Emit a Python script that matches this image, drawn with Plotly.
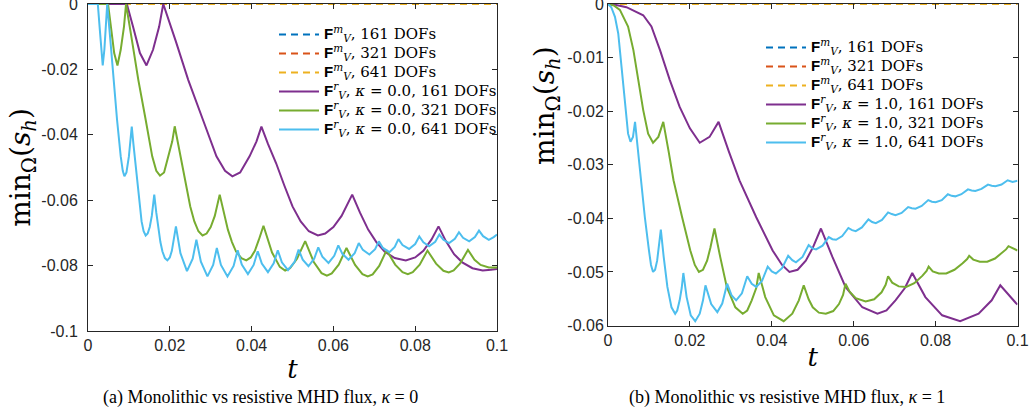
import plotly.graph_objects as go

# ---------------- data ----------------
T_RANGE = [0.0, 0.1]
MONO_T = [0.0, 0.1]
MONO_161 = [0.0, 0.0]
MONO_321 = [0.0, 0.0]
MONO_641 = [0.0, 0.0]

# panel (a): resistive flux, kappa = 0  -> (t, min s_h)
A_RES_161 = [(0, 0), (0.0095, 0), (0.011, -0.0069), (0.0127, -0.015), (0.0143, -0.0188), (0.0159, -0.014),
             (0.0174, -0.0069), (0.0184, 0), (0.0215, -0.0115), (0.0245, -0.0232), (0.0281, -0.0354),
             (0.0314, -0.0466), (0.0335, -0.051), (0.0353, -0.0527), (0.0372, -0.0515), (0.0395, -0.0466),
             (0.0412, -0.042), (0.0424, -0.0375), (0.044, -0.0428), (0.046, -0.0487), (0.048, -0.0555),
             (0.050, -0.0619), (0.052, -0.0665), (0.054, -0.0695), (0.0562, -0.0708), (0.058, -0.0702),
             (0.060, -0.0682), (0.062, -0.0648), (0.0646, -0.0583), (0.0665, -0.0638), (0.0685, -0.069),
             (0.0705, -0.0728), (0.0725, -0.0757), (0.075, -0.0777), (0.0777, -0.0784), (0.080, -0.0775),
             (0.082, -0.0755), (0.084, -0.072), (0.0857, -0.068), (0.0875, -0.0725), (0.0895, -0.0765),
             (0.0915, -0.079), (0.094, -0.0808), (0.0965, -0.0815), (0.0985, -0.0813), (0.1, -0.081)]

A_RES_321 = [(0, 0), (0.0049, 0), (0.0056, -0.0069), (0.0064, -0.015), (0.0072, -0.0188), (0.008, -0.014),
             (0.0088, -0.0069), (0.0093, 0), (0.0108, -0.0115), (0.0123, -0.0232), (0.0141, -0.0354),
             (0.0157, -0.0466), (0.0167, -0.051), (0.0176, -0.0525), (0.0186, -0.0515), (0.0197, -0.0466),
             (0.0206, -0.042), (0.0212, -0.0374), (0.022, -0.0428), (0.023, -0.0487), (0.024, -0.0555),
             (0.025, -0.0619), (0.026, -0.0665), (0.027, -0.0695), (0.028, -0.0708), (0.029, -0.0702),
             (0.030, -0.0682), (0.031, -0.0648), (0.0322, -0.0583), (0.0332, -0.0638), (0.0342, -0.069),
             (0.0352, -0.0728), (0.0362, -0.0757), (0.0375, -0.0777), (0.0387, -0.0784), (0.0398, -0.0775),
             (0.0408, -0.0755), (0.0418, -0.072), (0.0429, -0.0678), (0.045, -0.076), (0.0469, -0.0804),
             (0.0482, -0.0815), (0.0494, -0.0808), (0.0511, -0.0779), (0.0531, -0.0725), (0.0552, -0.0789),
             (0.0571, -0.0823), (0.0584, -0.0831), (0.0596, -0.0824), (0.0613, -0.0797), (0.0632, -0.0746),
             (0.0653, -0.0798), (0.0671, -0.0826), (0.0684, -0.0833), (0.0696, -0.0827), (0.0712, -0.0801),
             (0.073, -0.0753), (0.0751, -0.0797), (0.0769, -0.082), (0.0782, -0.0826), (0.0794, -0.082),
             (0.0811, -0.0797), (0.083, -0.0754), (0.0851, -0.0794), (0.0869, -0.0816), (0.0882, -0.0821),
             (0.0894, -0.0815), (0.091, -0.0793), (0.0929, -0.0752), (0.0945, -0.0782), (0.096, -0.0798),
             (0.098, -0.0806), (0.1, -0.0806)]

A_RES_641 = [(0, 0), (0.0024, 0), (0.0029, -0.008), (0.0033, -0.015), (0.0036, -0.0188), (0.004, -0.014),
             (0.0044, -0.007), (0.0047, 0), (0.0055, -0.0115), (0.0062, -0.0232), (0.0071, -0.0354),
             (0.008, -0.0466), (0.0085, -0.051), (0.0089, -0.0527), (0.0094, -0.0515), (0.01, -0.0466),
             (0.0104, -0.042), (0.0107, -0.0375), (0.0111, -0.0428), (0.0116, -0.0487), (0.0121, -0.0555),
             (0.0126, -0.0619), (0.0131, -0.0665), (0.0136, -0.0695), (0.0141, -0.0708), (0.0146, -0.0702),
             (0.0151, -0.0682), (0.0156, -0.0648), (0.0162, -0.0583), (0.0167, -0.0638), (0.0172, -0.069),
             (0.0177, -0.0728), (0.0182, -0.0757), (0.0188, -0.0777), (0.0194, -0.0784), (0.02, -0.0775),
             (0.0205, -0.0755), (0.021, -0.072), (0.0215, -0.068),
             (0.0226, -0.0762), (0.0242, -0.0817), (0.0256, -0.0779), (0.0265, -0.0721),
             (0.0276, -0.0788), (0.0292, -0.0833), (0.0306, -0.0798), (0.0315, -0.0746),
             (0.0325, -0.0798), (0.0341, -0.0833), (0.0356, -0.0801), (0.0366, -0.0753),
             (0.0376, -0.0797), (0.0391, -0.0826), (0.0405, -0.0798), (0.0415, -0.0756),
             (0.0425, -0.0794), (0.044, -0.082), (0.0454, -0.0793), (0.0464, -0.0753),
             (0.0474, -0.079), (0.0489, -0.0814), (0.0505, -0.0789), (0.0515, -0.0751),
             (0.0525, -0.0782), (0.0539, -0.0802), (0.0553, -0.0779), (0.0563, -0.0744),
             (0.0573, -0.0773), (0.0588, -0.0792), (0.0602, -0.077), (0.0612, -0.0738),
             (0.0622, -0.0764), (0.0637, -0.0782), (0.0652, -0.0762), (0.0662, -0.0731),
             (0.0672, -0.0752), (0.0688, -0.0766), (0.0702, -0.075), (0.0711, -0.0726),
             (0.0721, -0.0746), (0.0737, -0.0759), (0.075, -0.0743), (0.0759, -0.0719),
             (0.0769, -0.0737), (0.0785, -0.0749), (0.08, -0.0734), (0.081, -0.0711),
             (0.082, -0.0729), (0.0834, -0.0741), (0.0849, -0.0727), (0.0859, -0.0705),
             (0.0869, -0.0721), (0.0883, -0.0731), (0.0897, -0.0718), (0.0907, -0.0698),
             (0.0917, -0.0715), (0.0932, -0.0726), (0.0946, -0.0713), (0.0956, -0.0693),
             (0.0966, -0.071), (0.098, -0.0721), (0.0992, -0.0713), (0.1, -0.0705)]

# panel (b): resistive flux, kappa = 1
B_RES_161 = [(0, 0), (0.002, -0.0002), (0.0045, -0.0006), (0.0086, -0.0021), (0.0106, -0.0042), (0.0127, -0.0086),
             (0.0151, -0.0142), (0.0175, -0.0192), (0.02, -0.0232), (0.0224, -0.0259), (0.0248, -0.0248),
             (0.027, -0.022), (0.0295, -0.0275), (0.0321, -0.0329), (0.0362, -0.0398), (0.0402, -0.046),
             (0.0425, -0.0487), (0.0443, -0.05), (0.0463, -0.0496), (0.0483, -0.0479), (0.05, -0.0455),
             (0.052, -0.0419), (0.0548, -0.0472), (0.058, -0.0528), (0.0621, -0.0566), (0.0658, -0.0578),
             (0.068, -0.0572), (0.0702, -0.0553), (0.0725, -0.053), (0.0743, -0.0502), (0.0775, -0.0547),
             (0.0816, -0.0581), (0.086, -0.0592), (0.0905, -0.0578), (0.0937, -0.0553), (0.0958, -0.0525),
             (0.0996, -0.0558), (0.1, -0.0561)]

B_RES_321 = [(0, 0), (0.0015, -0.0003), (0.0029, -0.0011), (0.0049, -0.0042), (0.0062, -0.0086), (0.0074, -0.0142),
             (0.0086, -0.0198), (0.0098, -0.0242), (0.011, -0.0259), (0.0123, -0.0248), (0.0135, -0.022),
             (0.0148, -0.0275), (0.016, -0.0329), (0.0181, -0.0398), (0.0201, -0.046), (0.0212, -0.0487),
             (0.0222, -0.05), (0.0232, -0.0496), (0.0242, -0.0479), (0.025, -0.0455), (0.026, -0.0419),
             (0.0274, -0.0472), (0.029, -0.0528), (0.0311, -0.0566), (0.0329, -0.0578), (0.034, -0.0572),
             (0.0351, -0.0553), (0.0362, -0.053), (0.0368, -0.0502), (0.0384, -0.0547), (0.0405, -0.0581),
             (0.0429, -0.0592), (0.045, -0.0578), (0.0466, -0.0553), (0.0478, -0.0525),
             (0.049, -0.0551), (0.05, -0.0566), (0.0515, -0.0576), (0.0532, -0.0578), (0.055, -0.0573),
             (0.0564, -0.056), (0.0574, -0.0543), (0.058, -0.0522),
             (0.059, -0.0537), (0.0605, -0.0549), (0.0629, -0.0555), (0.065, -0.0551), (0.0668, -0.0538),
             (0.0678, -0.0524), (0.0684, -0.0508),
             (0.0694, -0.052), (0.071, -0.0527), (0.0728, -0.0528), (0.0748, -0.0521), (0.0768, -0.0507),
             (0.0778, -0.0498), (0.0783, -0.049),
             (0.0793, -0.0499), (0.0808, -0.0503), (0.0826, -0.0503), (0.0846, -0.0496), (0.0866, -0.0484),
             (0.0877, -0.0476), (0.0882, -0.047),
             (0.0892, -0.0477), (0.0908, -0.0481), (0.0926, -0.0481), (0.0945, -0.0475), (0.0962, -0.0465),
             (0.0972, -0.0458), (0.0978, -0.0452), (0.099, -0.0457), (0.1, -0.046)]

B_RES_641 = [(0, 0), (0.0008, -0.0006), (0.0017, -0.0024), (0.0025, -0.0055), (0.0033, -0.0117), (0.0041, -0.0186),
             (0.0049, -0.0242), (0.0055, -0.0257), (0.0061, -0.0248), (0.0066, -0.022),
             (0.0073, -0.0275), (0.008, -0.0329), (0.009, -0.0398), (0.01, -0.046), (0.0105, -0.0487),
             (0.011, -0.05), (0.0115, -0.0496), (0.012, -0.0479), (0.0124, -0.0455), (0.0129, -0.0421),
             (0.0136, -0.0472), (0.0145, -0.0528), (0.0155, -0.0566), (0.0164, -0.0578), (0.0169, -0.0572),
             (0.0175, -0.0553), (0.018, -0.053), (0.0184, -0.0502),
             (0.0192, -0.0547), (0.0202, -0.0581), (0.0213, -0.0592), (0.0224, -0.0578), (0.0232, -0.0553),
             (0.0238, -0.0525),
             (0.0252, -0.056), (0.0267, -0.0575), (0.0279, -0.0559), (0.0291, -0.0522),
             (0.0302, -0.0544), (0.0313, -0.0553), (0.0327, -0.054), (0.034, -0.0508),
             (0.0351, -0.0522), (0.0362, -0.0528), (0.0376, -0.0517), (0.039, -0.049),
             (0.04, -0.0499), (0.041, -0.0503), (0.0425, -0.0493), (0.044, -0.047),
             (0.045, -0.0478), (0.0459, -0.0482), (0.0475, -0.0472), (0.049, -0.045),
             (0.0499, -0.0456), (0.0508, -0.0458), (0.0524, -0.0451), (0.0539, -0.0435),
             (0.0548, -0.0439), (0.0557, -0.044), (0.0572, -0.0433), (0.0587, -0.0418),
             (0.0596, -0.0422), (0.0605, -0.0424), (0.062, -0.0417), (0.0636, -0.0402),
             (0.0645, -0.0407), (0.0654, -0.0409), (0.0669, -0.0403), (0.0684, -0.0389),
             (0.0693, -0.0392), (0.0702, -0.0394), (0.0717, -0.039), (0.0733, -0.0379),
             (0.0742, -0.0381), (0.0751, -0.0382), (0.0766, -0.0377), (0.0782, -0.0366),
             (0.0791, -0.0369), (0.08, -0.037), (0.0815, -0.0366), (0.083, -0.0355),
             (0.0839, -0.0358), (0.0848, -0.0359), (0.0863, -0.0355), (0.0879, -0.0346),
             (0.0888, -0.0348), (0.0897, -0.0349), (0.0912, -0.0345), (0.0928, -0.0337),
             (0.0937, -0.0339), (0.0946, -0.034), (0.0961, -0.0337), (0.0976, -0.0329),
             (0.0988, -0.0332), (0.1, -0.033)]

X_TICKS = [0, 0.02, 0.04, 0.06, 0.08, 0.1]
X_TICK_TEXT = ["0", "0.02", "0.04", "0.06", "0.08", "0.1"]
YA_TICKS = [0, -0.02, -0.04, -0.06, -0.08, -0.1]
YA_TICK_TEXT = ["0", "-0.02", "-0.04", "-0.06", "-0.08", "-0.1"]
YB_TICKS = [0, -0.01, -0.02, -0.03, -0.04, -0.05, -0.06]
YB_TICK_TEXT = ["0", "-0.01", "-0.02", "-0.03", "-0.04", "-0.05", "-0.06"]

DOFS = ["161", "321", "641"]
MONO_COLORS = ["#0072BD", "#D95319", "#EDB120"]
RES_COLORS = ["#7E2F8E", "#77AC30", "#4DBEEE"]

# ---------------- figure ----------------
W, H = 1030, 414
FSANS = "Liberation Sans"
FSERIF = "DejaVu Serif"
AX = "#262626"

F_BOLD = "<span style=\"font-family:'Liberation Sans'\"><b>F</b></span>"


def mono_name(d):
    return ("<span style=\"font-size:15px\">" + F_BOLD + "<sup><i>m</i></sup><sub><i>V</i></sub>, "
            + d + " DOFs</span>")


def res_name(kappa, d):
    return ("<span style=\"font-size:15px\">" + F_BOLD + "<sup><i>r</i></sup><sub><i>V</i></sub>, <i>κ</i> = "
            + kappa + ", " + d + " DOFs</span>")


fig = go.Figure()

panels = [
    ("x", "y", "legend", "0.0", [A_RES_161, A_RES_321, A_RES_641]),
    ("x2", "y2", "legend2", "1.0", [B_RES_161, B_RES_321, B_RES_641]),
]
mono_vals = [MONO_161, MONO_321, MONO_641]

for xa, ya, lg, kappa, res in panels:
    for d, col, mv in zip(DOFS, MONO_COLORS, mono_vals):
        fig.add_trace(go.Scatter(x=MONO_T, y=mv, mode="lines", xaxis=xa, yaxis=ya, legend=lg,
                                 name=mono_name(d), cliponaxis=False,
                                 line=dict(color=col, width=2, dash="7px,5px")))
    for d, col, series in zip(DOFS, RES_COLORS, res):
        fig.add_trace(go.Scatter(x=[p[0] for p in series], y=[p[1] for p in series], mode="lines",
                                 xaxis=xa, yaxis=ya, legend=lg, name=res_name(kappa, d), cliponaxis=False,
                                 line=dict(color=col, width=2)))


def px_x(p):
    return p / W


def px_y(p):
    return 1 - p / H


axis_common = dict(ticks="inside", ticklen=5, tickcolor=AX, showline=True, linecolor=AX, linewidth=1,
                   mirror="ticks", showgrid=False, zeroline=False, automargin=False,
                   ticklabeloverflow="allow",
                   tickfont=dict(family=FSANS, size=16, color=AX))

fig.update_layout(
    width=W, height=H,
    margin=dict(l=0, r=0, t=0, b=0, autoexpand=False),
    paper_bgcolor="white", plot_bgcolor="white",
    xaxis=dict(domain=[px_x(88), px_x(497)], range=T_RANGE, tickvals=X_TICKS, ticktext=X_TICK_TEXT,
               anchor="y", title=dict(text="<i>t</i>", font=dict(family=FSERIF, size=26, color="black"),
                                      standoff=6), **axis_common),
    yaxis=dict(domain=[px_y(331), px_y(4)], range=[-0.1, 0], tickvals=YA_TICKS, ticktext=YA_TICK_TEXT,
               anchor="x", ticklabelstandoff=6,
               title=dict(text="min<sub>Ω</sub>(<i>s</i><sub><i>h</i></sub>)",
                          font=dict(family=FSERIF, size=28, color="black"), standoff=2),
               **axis_common),
    xaxis2=dict(domain=[px_x(608), px_x(1017.5)], range=T_RANGE, tickvals=X_TICKS, ticktext=X_TICK_TEXT,
                anchor="y2", title=dict(text="<i>t</i>", font=dict(family=FSERIF, size=26, color="black"),
                                        standoff=0), **axis_common),
    yaxis2=dict(domain=[px_y(325.5), px_y(4)], range=[-0.06, 0], tickvals=YB_TICKS, ticktext=YB_TICK_TEXT,
                anchor="x2", **axis_common),
    legend=dict(x=px_x(274), y=px_y(20), xanchor="left", yanchor="top", bgcolor="rgba(255,255,255,0)",
                font=dict(family=FSERIF, size=11, color="black"), itemwidth=40, borderwidth=0),
    legend2=dict(x=px_x(761), y=px_y(33), xanchor="left", yanchor="top", bgcolor="rgba(255,255,255,0)",
                 font=dict(family=FSERIF, size=11, color="black"), itemwidth=40, borderwidth=0),
    showlegend=True,
    annotations=[
        dict(text="min<sub>Ω</sub>(<i>s</i><sub><i>h</i></sub>)", textangle=-90, xref="paper", yref="paper",
             x=px_x(546), y=px_y(106), showarrow=False, xanchor="center", yanchor="middle",
             font=dict(family=FSERIF, size=28, color="black")),
        dict(text="(a) Monolithic vs resistive MHD flux, <i>κ</i> = 0", xref="paper", yref="paper",
             x=px_x(260), y=px_y(397), showarrow=False, xanchor="center", yanchor="middle",
             font=dict(family="Liberation Serif", size=18, color="black")),
        dict(text="(b) Monolithic vs resistive MHD flux, <i>κ</i> = 1", xref="paper", yref="paper",
             x=px_x(787), y=px_y(397), showarrow=False, xanchor="center", yanchor="middle",
             font=dict(family="Liberation Serif", size=18, color="black")),
    ],
)

fig.write_html("out.html", config={"displayModeBar": False},
               post_script="document.body.style.margin='0px';")
